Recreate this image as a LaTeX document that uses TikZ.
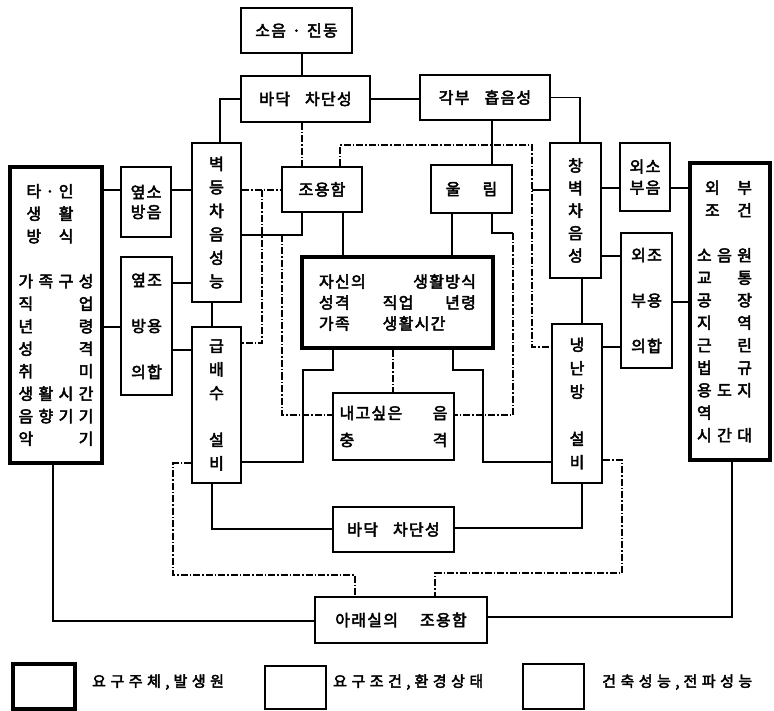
\documentclass[tikz,border=0pt]{standalone}
\usepackage{fontspec}
\setmainfont{Noto Sans CJK KR}[LetterSpace=8, FakeBold=3]
\newcommand{\spreadto}[2]{\makebox[#1]{#2}}

\begin{document}
\begin{tikzpicture}[x=1pt, y=-1pt,
    every node/.style={font=\fontsize{16}{22.5}\selectfont},
    srcbox/.style={draw, line width=3.4pt, inner sep=0pt, align=center},
    perfbox/.style={draw, line width=2pt, inner sep=0pt, align=center},
    condbox/.style={draw, line width=1.2pt, inner sep=0pt, align=center},
    keytext/.style={anchor=west, inner sep=0pt, font=\fontsize{15}{15}\selectfont\addfontfeature{LetterSpace=30}},
    link/.style={line width=1.5pt},
    weaklink/.style={line width=1.2pt, dash pattern=on 7pt off 2pt on 1.5pt off 2pt}]
    \useasboundingbox (0,0) rectangle (774,711);

    \node[perfbox, minimum width=111pt, minimum height=45pt] (noise) at (296.5,30.5) {소음\hspace{6pt}·\hspace{6pt}진동};
    \node[perfbox, minimum width=129pt, minimum height=46pt] (floorT) at (305.5,99) {바닥\hspace{15pt}차단성};
    \node[perfbox, minimum width=130pt, minimum height=45pt] (absorb) at (485,97.5) {각부\hspace{15pt}흡음성};
    \node[perfbox, minimum width=49pt, minimum height=159pt, font=\fontsize{16}{23.5}\selectfont] (wall) at (216.5,222.5) {벽\\등\\차\\음\\성\\능};
    \node[condbox, minimum width=80pt, minimum height=45pt] (quiet) at (322,189.5) {조용함};
    \node[condbox, minimum width=81pt, minimum height=48pt] (echo) at (471.5,189) {울\hspace{22pt}림};
    \node[perfbox, minimum width=51pt, minimum height=135pt] (window) at (575.5,210.5) {창\\벽\\차\\음\\성};
    \node[condbox, minimum width=50pt, minimum height=68pt, font=\fontsize{16}{21}\selectfont] (outN) at (645,177) {외소\\부음};
    \node[srcbox, minimum width=80pt, minimum height=297pt, text width=66pt, align=left] (outside) at (730,311.5) {
        \hspace*{8pt}\spreadto{47pt}{외\hfill 부}\\
        \hspace*{8pt}\spreadto{47pt}{조\hfill 건}\\
        ~\\
        \spreadto{55pt}{소\hfill 음\hfill 원}\\
        \spreadto{55pt}{교\hfill 통}\\
        \spreadto{55pt}{공\hfill 장}\\
        \spreadto{55pt}{지\hfill 역}\\
        \spreadto{55pt}{근\hfill 린}\\
        \spreadto{55pt}{법\hfill 규}\\
        \spreadto{55pt}{용\hfill 도\hfill 지}\\
        역\\
        \spreadto{55pt}{시\hfill 간\hfill 대}};
    \node[srcbox, minimum width=92pt, minimum height=296pt, text width=75pt, align=left] (other) at (56,315) {
        \hspace*{8pt}\spreadto{47pt}{타\hfill ·\hfill 인}\\
        \hspace*{8pt}\spreadto{47pt}{생\hfill 활}\\
        \hspace*{8pt}\spreadto{47pt}{방\hfill 식}\\
        ~\\
        \spreadto{75pt}{가\hfill 족\hfill 구\hfill 성}\\
        \spreadto{75pt}{직\hfill 업}\\
        \spreadto{75pt}{년\hfill 령}\\
        \spreadto{75pt}{성\hfill 격}\\
        \spreadto{75pt}{취\hfill 미}\\
        \spreadto{75pt}{생\hfill 활\hfill 시\hfill 간}\\
        \spreadto{75pt}{음\hfill 향\hfill 기\hfill 기}\\
        \spreadto{75pt}{악\hfill 기}};
    \node[condbox, minimum width=50pt, minimum height=70pt, font=\fontsize{16}{20}\selectfont] (nextN) at (146,202) {옆소\\방음};
    \node[condbox, minimum width=51pt, minimum height=138pt, font=\fontsize{16}{23}\selectfont] (nextQ) at (146.5,326) {옆조\\~\\방용\\~\\의합};
    \node[perfbox, minimum width=49pt, minimum height=156pt, font=\fontsize{16}{23.5}\selectfont] (water) at (216.5,405) {급\\배\\수\\~\\설\\비};
    \node[srcbox, minimum width=191pt, minimum height=91pt, font=\fontsize{16}{21}\selectfont] (self) at (397.5,302.5) {
        \spreadto{157pt}{자신의\hfill 생활방식}\\
        \spreadto{157pt}{성격\hspace{33pt}직업\hfill 년령}\\
        \spreadto{157pt}{가족\hspace{33pt}생활시간\hfill}};
    \node[condbox, minimum width=121pt, minimum height=67pt, font=\fontsize{16}{27}\selectfont] (impact) at (393.5,426.5) {
        \spreadto{108pt}{내고싶은\hfill 음}\\
        \spreadto{108pt}{충\hfill 격}};
    \node[perfbox, minimum width=50pt, minimum height=159pt, font=\fontsize{16}{23.5}\selectfont] (hvac) at (577,403.5) {냉\\난\\방\\~\\설\\비};
    \node[condbox, minimum width=51pt, minimum height=135pt, font=\fontsize{16}{22.75}\selectfont] (outQ) at (646.5,300.5) {외조\\~\\부용\\~\\의합};
    \node[perfbox, minimum width=121pt, minimum height=45pt] (floorB) at (393.5,529.5) {바닥\hspace{15pt}차단성};
    \node[condbox, minimum width=172pt, minimum height=46pt] (below) at (401,620) {아래실의\hspace{22pt}조용함};

    \node[srcbox, minimum width=62pt, minimum height=45pt] (srckey) at (44,686.5) {};
    \node[keytext] (srctext) at (92,682) {요구주체,\hspace{4pt}발생원};
    \node[condbox, minimum width=61pt, minimum height=43pt] (condkey) at (295.5,687.5) {};
    \node[keytext] (condtext) at (333,682) {요구조건,\hspace{4pt}환경상태};
    \node[perfbox, minimum width=61pt, minimum height=45pt] (perfkey) at (553.5,686.5) {};
    \node[keytext] (perftext) at (602,682) {건축성능,\hspace{4pt}전파성능};

    \coordinate (jL) at (262,190);
    \coordinate (jQ) at (282,235);
    \coordinate (jE) at (513,233);
    \coordinate (jR) at (532,190);

    \draw[link] (302,0 |- noise.south) -- (302,0 |- floorT.north);
    \draw[link] (floorT.west) -| (220,0 |- wall.north);
    \draw[link] (floorT.east) -- (floorT.east -| absorb.west);
    \draw[link] (absorb.east) -| (580,0 |- window.north);
    \draw[weaklink] (302,0 |- floorT.south) -- (302,0 |- quiet.north);
    \draw[link] (492,0 |- absorb.south) -- (492,0 |- echo.north);
    \draw[weaklink] (340,0 |- quiet.north) |- (532,145) |- (hvac.west |- 0,347);
    \draw[link] (window.west |- jR) -- (jR);

    \draw[link] (other.east |- 0,190) -- (nextN.west |- 0,190);
    \draw[link] (nextN.east |- 0,190) -- (wall.west |- 0,190);
    \draw[link] (other.east |- 0,327) -- (nextQ.west |- 0,327);
    \draw[link] (nextQ.east |- 0,283) -- (wall.west |- 0,283);
    \draw[link] (nextQ.east |- 0,350) -- (water.west |- 0,350);
    \draw[link] (212,0 |- wall.south) -- (212,0 |- water.north);

    \draw[weaklink] (wall.east |- 0,190) -- (quiet.west |- 0,190);
    \draw[weaklink] (jL) |- (water.east |- 0,343);
    \draw[link] (wall.east |- 0,235) -| (302,0 |- quiet.south);
    \draw[weaklink] (jQ) |- (impact.west |- 0,415);
    \draw[link] (343,0 |- quiet.south) -- (343,0 |- self.north);
    \draw[link] (452,0 |- echo.south) -- (452,0 |- self.north);
    \draw[link] (492,0 |- echo.south) |- (jE);
    \draw[weaklink] (jE) |- (impact.east |- 0,415);
    \draw[weaklink] (393,0 |- self.south) -- (393,0 |- impact.north);
    \draw[link] (333,0 |- self.south) |- (303,370) |- (water.east |- 0,462);
    \draw[link] (453,0 |- self.south) |- (483,370) |- (hvac.west |- 0,462);

    \draw[link] (window.east |- 0,188) -- (outN.west |- 0,188);
    \draw[link] (outN.east |- 0,188) -- (outside.west |- 0,188);
    \draw[link] (window.east |- 0,256) -- (outQ.west |- 0,256);
    \draw[link] (582,0 |- window.south) -- (582,0 |- hvac.north);
    \draw[link] (hvac.east |- 0,347) -- (outQ.west |- 0,347);
    \draw[link] (outQ.east |- 0,302) -- (outside.west |- 0,302);

    \draw[link] (212,0 |- water.south) |- (floorB.west |- 0,529);
    \draw[link] (582,0 |- hvac.south) |- (floorB.east |- 0,528);
    \draw[weaklink] (water.west |- 0,463) -| (173,575) -| (355,0 |- below.north);
    \draw[weaklink] (hvac.east |- 0,460) -| (622,573) -| (435,0 |- below.north);
    \draw[link] (53,0 |- other.south) |- (below.west |- 0,621);
    \draw[link] (732,0 |- outside.south) |- (below.east |- 0,617);
\end{tikzpicture}
\end{document}
